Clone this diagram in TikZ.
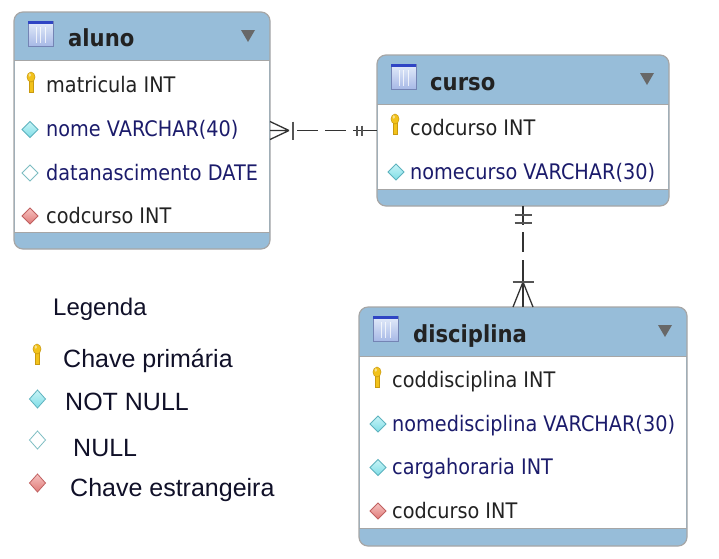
\documentclass[tikz,border=0pt]{standalone}
\usepackage{fontspec}
\newfontfamily\rowfont[FakeStretch=0.9]{DejaVu Sans}
\newfontfamily\legfont{Liberation Sans}
\usetikzlibrary{calc}
\definecolor{headerblue}{HTML}{97BDD9}
\definecolor{bordergray}{HTML}{A6A6A6}
\definecolor{trigray}{HTML}{686868}
\definecolor{rowblack}{HTML}{222222}
\definecolor{rownavy}{HTML}{1B1B6B}
\definecolor{legtext}{HTML}{101028}
\definecolor{iconlight}{HTML}{E4ECFA}
\definecolor{icondark}{HTML}{A7B9E6}
\definecolor{iconborder}{HTML}{7484B4}
\definecolor{iconbar}{HTML}{2F45C4}
\definecolor{keygold}{HTML}{F2C21B}
\definecolor{keydark}{HTML}{C99A10}
\definecolor{nnfill}{HTML}{7FDDE6}
\definecolor{nnlight}{HTML}{C8F4F7}
\definecolor{nnborder}{HTML}{5DB2BE}
\definecolor{nullborder}{HTML}{7DBDC2}
\definecolor{fkfill}{HTML}{E07A78}
\definecolor{fklight}{HTML}{F6C2C0}
\definecolor{fkborder}{HTML}{C06060}
\definecolor{relline}{HTML}{333333}
\definecolor{relbar}{HTML}{555555}
\tikzset{
  tablebox/.style={draw=bordergray, fill=headerblue, line width=1.2pt,
    rounded corners=9pt, inner sep=0pt, outer sep=0pt},
  titletext/.style={anchor=base west, inner sep=0pt, text=rowblack,
    font=\rowfont\bfseries\fontsize{23.5}{26}\selectfont},
  rowtext/.style={anchor=base west, inner sep=0pt, text=rowblack,
    font=\rowfont\fontsize{21.4}{24}\selectfont},
  navytext/.style={rowtext, text=rownavy},
  legendtext/.style={anchor=base west, inner sep=0pt, text=legtext,
    font=\legfont\fontsize{25}{28}\selectfont},
  relation/.style={draw=relline, line width=1.5pt},
  relbarline/.style={draw=relbar, line width=2pt},
}
% icon of a table
\newcommand\tblicon[2]{%
  \shade[top color=iconlight, bottom color=icondark, draw=iconborder, line width=0.8pt]
    (#1,#2) rectangle ++(25,25);
  \fill[iconbar] (#1,#2) rectangle ++(25,3);
  \draw[white, opacity=0.75, line width=0.9pt]
    (#1+8,#2+6) -- ++(0,16) (#1+12.5,#2+6) -- ++(0,16) (#1+17,#2+6) -- ++(0,16);
}
% key icon: centre x, bottom y, scale
\newcommand\pkicon[3]{%
  \begin{scope}[shift={(#1,#2)}, scale=#3]
    \fill[keygold, draw=keydark, line width=0.5pt] (-2,-12) rectangle (2,0);
    \fill[keygold, draw=keydark, line width=0.5pt] (0,-15) ellipse [x radius=4pt, y radius=5pt];
    \fill[white, opacity=0.5] (-1.2,-17) ellipse [x radius=1.3pt, y radius=1.9pt];
  \end{scope}}
% diamond: top colour, bottom colour, border, cx, cy, half width, half height
\newcommand\diaicon[7]{%
  \shade[top color=#1, bottom color=#2, draw=#3, line width=0.8pt]
    (#4,#5-#7) -- (#4+#6,#5) -- (#4,#5+#7) -- (#4-#6,#5) -- cycle;}
% table: name, x1, y1, x2, y2, header bottom, body bottom
\newcommand\ertable[7]{%
  \node[tablebox, minimum width={(#4-#2)*1pt}, minimum height={(#5-#3)*1pt}]
    (#1) at ({(#2+#4)/2},{(#3+#5)/2}) {};
  \fill[white] (#2+0.6,#6) rectangle (#4-0.6,#7);
  \draw[bordergray, line width=0.8pt] (#2,#6) -- (#4,#6) (#2,#7) -- (#4,#7);
  \tblicon{#2+14}{#3+9}
  \fill[trigray] (#4-29,#3+18) -- (#4-15,#3+18) -- (#4-22,#3+30) -- cycle;
}
\begin{document}
\begin{tikzpicture}[x=1pt,y=-1pt]
\useasboundingbox (0,0) rectangle (719,558);
\fill[white] (0,0) rectangle (719,558);

% ---------- aluno ----------
\ertable{aluno}{14}{12}{270}{249}{60}{232}
\node[titletext] (alunoT) at (68,46.5) {aluno};
\pkicon{31}{92}{1}
\node[rowtext] (a1) at (46,92) {matricula INT};
\diaicon{nnlight}{nnfill}{nnborder}{30}{129.5}{8}{8}
\node[navytext] (a2) at (46,136.5) {nome VARCHAR(40)};
\diaicon{white}{white}{nullborder}{30}{173}{8}{8}
\node[navytext] (a3) at (46,180) {datanascimento DATE};
\diaicon{fklight}{fkfill}{fkborder}{30}{216}{8}{8}
\node[rowtext] (a4) at (46,223) {codcurso INT};

% ---------- curso ----------
\ertable{curso}{377}{55}{669}{206}{104}{189}
\node[titletext] (cursoT) at (430,90) {curso};
\pkicon{395}{134}{1}
\node[rowtext] (c1) at (410,135) {codcurso INT};
\diaicon{nnlight}{nnfill}{nnborder}{396}{172}{8}{8}
\node[navytext] (c2) at (410,179) {nomecurso VARCHAR(30)};

% ---------- disciplina ----------
\ertable{disciplina}{359}{307}{687}{546}{356}{528}
\node[titletext] (discT) at (413,342) {disciplina};
\pkicon{377}{387}{1}
\node[rowtext] (d1) at (392,387) {coddisciplina INT};
\diaicon{nnlight}{nnfill}{nnborder}{378}{424}{8}{8}
\node[navytext] (d2) at (392,431) {nomedisciplina VARCHAR(30)};
\diaicon{nnlight}{nnfill}{nnborder}{378}{467.5}{8}{8}
\node[navytext] (d3) at (392,474.5) {cargahoraria INT};
\diaicon{fklight}{fkfill}{fkborder}{378}{511}{8}{8}
\node[rowtext] (d4) at (392,518) {codcurso INT};

% ---------- relation aluno (many) -- curso (one) ----------
\draw[relation, line width=1.3pt] ($(aluno.east)+(19,0)$) -- ($(aluno.east)+(0,-9)$)
                ($(aluno.east)+(19,0)$) -- (aluno.east)
                ($(aluno.east)+(19,0)$) -- ($(aluno.east)+(0,9)$);
\draw[relbarline] ($(aluno.east)+(23,-9)$) -- ($(aluno.east)+(23,9)$);
\draw[relation, dash pattern=on 21pt off 7pt] ($(aluno.east)+(27,0)$) -- ($(curso.west)+(-22,0)$);
\draw[relation] ($(curso.west)+(-24,0)$) -- (curso.west);
\draw[relbarline] ($(curso.west)+(-20,-5)$) -- ($(curso.west)+(-20,5)$)
                  ($(curso.west)+(-15,-5)$) -- ($(curso.west)+(-15,5)$);

% ---------- relation curso (one) -- disciplina (many) ----------
\draw[relation] (curso.south) -- ($(curso.south)+(0,19)$);
\draw[relbarline] ($(curso.south)+(-8.5,9)$) -- ($(curso.south)+(8.5,9)$)
                  ($(curso.south)+(-8.5,17)$) -- ($(curso.south)+(8.5,17)$);
\draw[relation, dash pattern=on 20pt off 8pt] ($(curso.south)+(0,26)$) -- ($(disciplina.north)+(0,-27)$);
\draw[relation] ($(disciplina.north)+(0,-27)$) -- (disciplina.north);
\draw[relation, line width=1.3pt] ($(disciplina.north)+(0,-25)$) -- ($(disciplina.north)+(-10,0)$)
                ($(disciplina.north)+(0,-25)$) -- ($(disciplina.north)+(10,0)$);
\draw[relbarline, line width=2.6pt] ($(disciplina.north)+(-10.5,-25)$) -- ($(disciplina.north)+(10.5,-25)$);

% ---------- legend ----------
\node[legendtext, font=\legfont\fontsize{24}{27}\selectfont] (legT) at (53,315) {Legenda};
\pkicon{37}{364}{1}
\node[legendtext] (leg1) at (63,367) {Chave primária};
\diaicon{nnlight}{nnfill}{nnborder}{37.5}{399}{8}{9}
\node[legendtext] (leg2) at (65,410) {NOT NULL};
\diaicon{white}{white}{nullborder}{37.5}{440}{8}{9}
\node[legendtext] (leg3) at (73,456) {NULL};
\diaicon{fklight}{fkfill}{fkborder}{37.5}{483}{8}{9}
\node[legendtext] (leg4) at (70,496) {Chave estrangeira};
\end{tikzpicture}
\end{document}
